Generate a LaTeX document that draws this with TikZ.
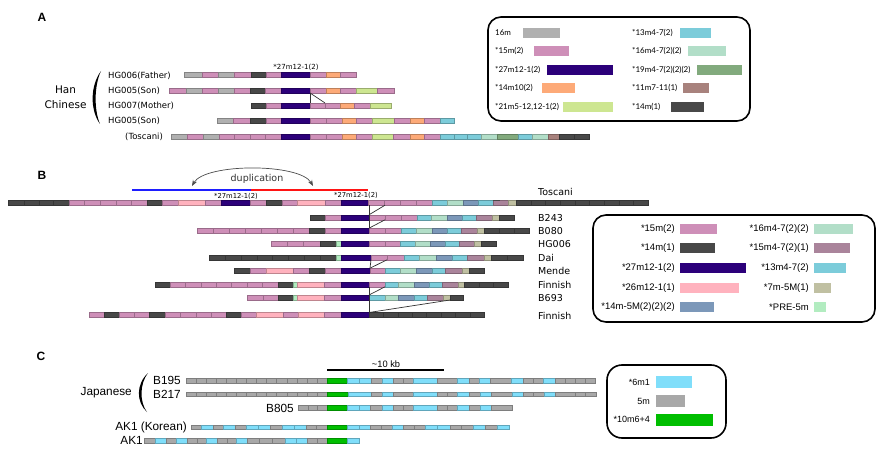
\documentclass[tikz,border=0pt]{standalone}
\usepackage{fontspec}
\setmainfont{DejaVu Sans}
\newfontfamily\latofont{Lato}
\newfontfamily\arialfont{Liberation Sans}
\usetikzlibrary{arrows.meta}

% repeat unit colours
\definecolor{grey16}{RGB}{176,176,176}
\definecolor{pink15}{RGB}{206,143,184}
\definecolor{navy27}{RGB}{44,0,122}
\definecolor{orng14}{RGB}{253,170,120}
\definecolor{lime21}{RGB}{205,230,145}
\definecolor{cyan13}{RGB}{124,204,218}
\definecolor{mint16}{RGB}{178,222,200}
\definecolor{fern19}{RGB}{130,170,125}
\definecolor{brwn11}{RGB}{168,130,125}
\definecolor{dark14}{RGB}{72,72,72}
\definecolor{mauv15}{RGB}{170,132,155}
\definecolor{rose26}{RGB}{255,178,190}
\definecolor{tan7}{RGB}{192,192,162}
\definecolor{steel14}{RGB}{124,152,185}
\definecolor{pre5}{RGB}{178,236,192}
\definecolor{sky6}{RGB}{128,222,250}
\definecolor{grn10}{RGB}{0,190,0}
\definecolor{grey5}{RGB}{168,168,168}
% duplicated region
\definecolor{dupsrc}{RGB}{30,30,255}
\definecolor{dupdst}{RGB}{255,20,20}

% one array: y, x start, bar height, list of colour/width
\newcommand\track[4]{%
  \xdef\trkx{#2}%
  \foreach \segcol/\segw in {#4}{%
    \fill[fill=\segcol, draw=\segcol!75!black, line width=0.3pt] (\trkx,#1-#3/2) rectangle ++(\segw,#3);
    \pgfmathsetmacro\trknext{\trkx+\segw}%
    \xdef\trkx{\trknext}%
  }}

\begin{document}
\begin{tikzpicture}[x=1pt, y=-1pt,
    panel/.style={inner sep=0pt, font=\arialfont\bfseries\fontsize{12}{14}\selectfont},
    lblA/.style={inner sep=0pt, anchor=west, font=\fontsize{8.5}{10}\selectfont},
    lblB/.style={inner sep=0pt, anchor=west, font=\fontsize{9.5}{11}\selectfont},
    lblC/.style={inner sep=0pt, anchor=east, font=\arialfont\fontsize{11.8}{14}\selectfont},
    motif/.style={inner sep=0pt, font=\fontsize{7}{8}\selectfont},
    legA/.style={inner sep=0pt, anchor=west, font=\latofont\fontsize{8}{9}\selectfont},
    legB/.style={inner sep=0pt, anchor=east, font=\arialfont\fontsize{9.5}{11}\selectfont},
    legC/.style={inner sep=0pt, anchor=east, font=\arialfont\fontsize{9}{10}\selectfont},
    legbox/.style={draw=black, line width=1.6pt, rounded corners=13pt},
    brk/.style={draw=black!80, line width=0.7pt}]

  \useasboundingbox (0,0) rectangle (880,457);

  % ================= A =================
  \node[panel] (pA) at (42,17.5) {A};

  \node[inner sep=0pt, align=center, font=\fontsize{10.5}{15}\selectfont] (han) at (65.5,97.5) {Han\\Chinese};
  \fill (101,71) .. controls (90,86) and (90,110) .. (100,124) .. controls (94,110) and (94,86) .. cycle;

  \node[lblA] (hgf) at (108,75.5) {HG006(Father)};
  \node[lblA] (hgs1) at (108,90.5) {HG005(Son)};
  \node[lblA] (hgm) at (108,106) {HG007(Mother)};
  \node[lblA] (hgs2) at (108,120.5) {HG005(Son)};
  \node[lblA] (tosA) at (125,136.5) {(Toscani)};
  \node[motif] (motA) at (296,67) {*27m12-1(2)};

  \track{75}{184}{5}{grey16/18,pink15/16,grey16/16,pink15/17,dark14/15,pink15/15,navy27/29,pink15/16,orng14/14,pink15/16}
  \track{90.5}{169}{5}{pink15/17,grey16/16,pink15/16,grey16/16,pink15/16,dark14/15,pink15/16,navy27/29,pink15/16,orng14/14,pink15/16,lime21/21,pink15/17}
  \track{105.5}{251}{5}{dark14/15,pink15/15,navy27/29,pink15/15,pink15/15,orng14/14,pink15/16,lime21/21}
  \track{120.5}{217}{5}{grey16/16,pink15/17,dark14/16,pink15/15,navy27/29,pink15/16,pink15/16,orng14/14,pink15/16,lime21/22,pink15/16,orng14/14,pink15/16,cyan13/14}
  \track{136.5}{171}{5}{grey16/16,pink15/16,grey16/16,pink15/15,pink15/16,pink15/15,pink15/16,navy27/29,pink15/16,pink15/16,orng14/14,pink15/16,lime21/21,pink15/17,orng14/14,pink15/16,cyan13/14,cyan13/13,cyan13/14,mint16/16,fern19/21,cyan13/14,mint16/16,brwn11/11,dark14/15,dark14/15}

  % breakpoint between son and mother
  \coordinate (sonEnd) at (310,93);
  \coordinate (momEnd) at (310,103);
  \coordinate (momIns) at (325,103);
  \draw[brk] (sonEnd) -- (momEnd);
  \draw[brk] (sonEnd) -- (momIns);

  % legend A
  \draw[legbox] (488,17) rectangle (750,121);
  \node[legA] (la1) at (495,33) {16m};
  \node[legA] (la2) at (495,51) {*15m(2)};
  \node[legA] (la3) at (495,70) {*27m12-1(2)};
  \node[legA] (la4) at (495,88) {*14m10(2)};
  \node[legA] (la5) at (495,107) {*21m5-12,12-1(2)};
  \fill[grey16] (523,28) rectangle (560,38);
  \fill[pink15] (534,46) rectangle (569,56);
  \fill[navy27] (547,65) rectangle (613,75);
  \fill[orng14] (542,83) rectangle (575,93);
  \fill[lime21] (563,102) rectangle (613,112);
  \node[legA] (la6) at (632,33) {*13m4-7(2)};
  \node[legA] (la7) at (632,51) {*16m4-7(2)(2)};
  \node[legA] (la8) at (632,70) {*19m4-7(2)(2)(2)};
  \node[legA] (la9) at (632,88) {*11m7-11(1)};
  \node[legA] (la10) at (632,107) {*14m(1)};
  \fill[cyan13] (680,28) rectangle (711,38);
  \fill[mint16] (688,46) rectangle (726,56);
  \fill[fern19] (697,65) rectangle (742,75);
  \fill[brwn11] (683,83) rectangle (709,93);
  \fill[dark14] (671,102) rectangle (704,112);

  % ================= B =================
  \node[panel] (pB) at (42,175.5) {B};

  % duplication
  \draw[draw=dupsrc, line width=1.1pt] (132,190) -- (251,190);
  \draw[draw=dupdst, line width=1.1pt] (251,190) -- (368,190);
  \coordinate (dupL) at (192,186);
  \coordinate (dupR) at (313,186);
  \draw[black!70, line width=0.7pt, {Stealth[length=6pt]}-{Stealth[length=6pt]}] (dupL) .. controls (205,163) and (300,163) .. (dupR);
  \node[inner sep=0pt, font=\fontsize{9.5}{11}\selectfont, text=black!80] (dup) at (257,178.5) {duplication};
  \node[motif, font=\fontsize{6.8}{8}\selectfont] (motB1) at (236,196) {*27m12-1(2)};
  \node[motif, font=\fontsize{6.8}{8}\selectfont] (motB2) at (356,195.5) {*27m12-1(2)};

  \track{202.7}{8}{5}{dark14/16,dark14/15,dark14/14,dark14/16,pink15/15,pink15/16,pink15/16,pink15/15,pink15/16,dark14/15,pink15/16,rose26/27,pink15/16,navy27/29,pink15/16,dark14/16,pink15/15,rose26/28,pink15/16,navy27/27,pink15/16,pink15/16,pink15/16,pink15/16,cyan13/15,mint16/16,steel14/15,cyan13/15,mauv15/15,tan7/8,dark14/14.7,dark14/14.7,dark14/14.7,dark14/14.7,dark14/14.7,dark14/14.7,dark14/14.7,dark14/14.7,dark14/14.7}
  \draw[dark14, line width=0.9pt] (492.5,200.8) -- (499.5,200.8);
  \track{217.3}{310}{5}{dark14/15,pink15/16,navy27/28,pink15/16,pink15/16,pink15/16,cyan13/14,mint16/16,steel14/15,cyan13/14,mauv15/16,tan7/7,dark14/15}
  \track{230.7}{197}{5}{pink15/16,pink15/16,pink15/16,pink15/16,pink15/16,pink15/16,pink15/16,dark14/16,pink15/16,navy27/28,pink15/16,pink15/16,cyan13/15,mint16/16,steel14/15,cyan13/14,mauv15/16,tan7/7,dark14/15,dark14/15,dark14/15}
  \track{244}{271}{5}{pink15/16,pink15/16,pink15/17,dark14/16,pre5/5,navy27/28,pink15/16,pink15/15,cyan13/15,mint16/15,steel14/15,cyan13/14,mauv15/15,tan7/7,dark14/15}
  \track{257.3}{209}{5}{dark14/15.9,dark14/15.9,dark14/15.9,dark14/15.9,dark14/15.9,dark14/15.9,dark14/15.9,dark14/15.9,pre5/5,navy27/30,pink15/16,pink15/17,cyan13/15,mint16/17,steel14/16,cyan13/15,mauv15/17,tan7/7,dark14/16,dark14/16}
  \track{270.7}{234}{5}{dark14/16,pink15/16,rose26/27,pink15/16,dark14/16,pink15/16,navy27/29,pink15/15,cyan13/15,mint16/16,steel14/16,cyan13/13,mauv15/17,tan7/7,dark14/15}
  \track{284.3}{155}{5}{dark14/15,pink15/15.4,pink15/15.4,pink15/15.4,pink15/15.4,pink15/15.4,pink15/15.4,pink15/15.6,dark14/15,pre5/4,rose26/27,pink15/17,navy27/28,pink15/16,cyan13/13,mint16/16,steel14/15,cyan13/13,mauv15/16,tan7/6,dark14/15,dark14/14,dark14/15}
  \track{297.5}{247}{5}{pink15/16,pink15/15,dark14/15,pre5/4,rose26/27,pink15/17,navy27/28,cyan13/16,mint16/13,steel14/16,cyan13/13,mauv15/16,tan7/7,dark14/13}
  \track{315}{89}{5}{pink15/15,dark14/15,pink15/15,pink15/15,dark14/16,pink15/15,pink15/16,pink15/15,pink15/15,dark14/15,pink15/15,rose26/27,pink15/15,rose26/26,pink15/17,navy27/28,dark14/14.4,dark14/14.4,dark14/14.4,dark14/14.4,dark14/14.4,dark14/14.4,dark14/14.4,dark14/14.4}

  % breakpoints
  \coordinate (tosN) at (369,205.2);
  \coordinate (tosP) at (385,205.2);
  \coordinate (b243N) at (369,214.8);
  \coordinate (b243P) at (385,219.8);
  \coordinate (b080N) at (369,228.2);
  \draw[brk] (tosN) -- (b080N);
  \draw[brk] (b243N) -- (tosP);
  \draw[brk] (b080N) -- (b243P);
  \coordinate (daiN) at (371,259.8);
  \coordinate (daiP) at (387,259.8);
  \coordinate (menN) at (370,268.2);
  \draw[brk] (daiN) -- (menN);
  \draw[brk] (menN) -- (daiP);
  \coordinate (finN) at (369,286.8);
  \coordinate (finP) at (385,286.8);
  \coordinate (b693N) at (369,295);
  \coordinate (b693D) at (450,300);
  \coordinate (fin2N) at (369,312.5);
  \draw[brk] (finN) -- (fin2N);
  \draw[brk] (b693N) -- (finP);
  \draw[brk] (fin2N) -- (b693D);

  \node[lblB] (tosB) at (538,192) {Toscani};
  \node[lblB] (b243) at (538,218) {B243};
  \node[lblB] (b080) at (538,231) {B080};
  \node[lblB] (hg006) at (538,244.5) {HG006};
  \node[lblB] (dai) at (538,258) {Dai};
  \node[lblB] (mende) at (538,271) {Mende};
  \node[lblB] (fin1) at (538,285) {Finnish};
  \node[lblB] (b693) at (538,298) {B693};
  \node[lblB] (fin2) at (538,315.5) {Finnish};

  % legend B
  \draw[legbox] (593,215) rectangle (875,322);
  \node[legB] (lb1) at (675,229) {*15m(2)};
  \node[legB] (lb2) at (675,248) {*14m(1)};
  \node[legB] (lb3) at (675,268) {*27m12-1(2)};
  \node[legB] (lb4) at (675,288) {*26m12-1(1)};
  \node[legB] (lb5) at (675,307) {*14m-5M(2)(2)(2)};
  \fill[pink15] (680,224.2) rectangle (717,233.8);
  \fill[dark14] (680,243.2) rectangle (715,252.8);
  \fill[navy27] (680,263.2) rectangle (746,272.8);
  \fill[rose26] (680,283.2) rectangle (739,292.8);
  \fill[steel14] (680,302.2) rectangle (714,311.8);
  \node[legB] (lb6) at (809,229) {*16m4-7(2)(2)};
  \node[legB] (lb7) at (809,248) {*15m4-7(2)(1)};
  \node[legB] (lb8) at (809,268) {*13m4-7(2)};
  \node[legB] (lb9) at (809,288) {*7m-5M(1)};
  \node[legB] (lb10) at (809,307) {*PRE-5m};
  \fill[mint16] (814,224.2) rectangle (853,233.8);
  \fill[mauv15] (814,243.2) rectangle (850,252.8);
  \fill[cyan13] (814,263.2) rectangle (846,272.8);
  \fill[tan7] (814,283.2) rectangle (831,292.8);
  \fill[pre5] (814,302.2) rectangle (826,311.8);

  % ================= C =================
  \node[panel] (pC) at (41,356) {C};

  \node[lblC] (jap) at (132,393) {Japanese};
  \fill (148,373) .. controls (136,384) and (136,402) .. (147,412) .. controls (139.5,402) and (139.5,384) .. cycle;
  \node[lblC] (b195) at (181,380.5) {B195};
  \node[lblC] (b217) at (181,394) {B217};
  \node[lblC] (b805) at (294,408) {B805};
  \node[lblC] (ak1k) at (187,427) {AK1 (Korean)};
  \node[lblC] (ak1) at (143,440.5) {AK1};

  % scale bar
  \coordinate (sbL) at (327,370);
  \coordinate (sbR) at (444,370);
  \draw[line width=1.3pt] (sbL) -- (sbR);
  \node[inner sep=0pt, font=\arialfont\fontsize{9.3}{10}\selectfont] (kb) at (386,364) {\textasciitilde10 kb};

  \track{380.5}{186}{4.5}{grey5/10.07,grey5/10.07,grey5/10.07,grey5/10.07,grey5/10.07,grey5/10.07,grey5/10.07,grey5/10.07,grey5/10.07,grey5/10.07,grey5/10.07,grey5/10.07,grey5/10.07,grey5/10.09,grn10/20,sky6/12,sky6/12,grey5/11,sky6/11,grey5/10,grey5/10,sky6/24,grey5/20,sky6/12,grey5/10,sky6/11,grey5/21,sky6/12,grey5/10,grey5/10,sky6/12,grey5/10,grey5/10,grey5/10,grey5/10}
  \track{394}{186}{4.5}{grey5/10.07,grey5/10.07,grey5/10.07,grey5/10.07,grey5/10.07,grey5/10.07,grey5/10.07,grey5/10.07,grey5/10.07,grey5/10.07,grey5/10.07,grey5/10.07,grey5/10.07,grey5/10.09,grn10/21,sky6/23,grey5/11,sky6/11,grey5/20,sky6/24,grey5/10,grey5/10,sky6/12,grey5/11,sky6/11,grey5/21,sky6/11,grey5/10,grey5/11,sky6/11,grey5/20,grey5/10,grey5/11}
  \track{407.7}{298}{4.5}{grey5/9.67,grey5/9.67,grey5/9.66,grn10/20,sky6/12,sky6/11,grey5/12,sky6/11,grey5/10,grey5/10,sky6/24,grey5/10,grey5/10,sky6/12,grey5/11,sky6/11,grey5/21}
  \track{427}{191}{4.5}{grey5/10,sky6/12,grey5/10,sky6/12,grey5/11,sky6/12,sky6/12,grey5/12,sky6/12,sky6/12,grey5/10,grey5/11,grn10/20,sky6/12,sky6/11,grey5/11,grey5/11,sky6/11,grey5/11,grey5/11,sky6/12,sky6/13,grey5/11,grey5/12,sky6/12,grey5/12,sky6/12}
  \track{440.5}{144}{4.5}{grey5/11,sky6/11,grey5/10,sky6/11,grey5/10,grey5/9,sky6/11,grey5/10,grey5/9,sky6/11,grey5/12,grey5/13,grey5/13,sky6/11,sky6/11,grey5/10,grey5/10,grn10/20,sky6/12}

  % legend C
  \draw[legbox, rounded corners=15pt] (607,365) rectangle (726,438);
  \node[legC] (lc1) at (650,382) {*6m1};
  \node[legC] (lc2) at (650,401) {5m};
  \node[legC] (lc3) at (650,419.5) {*10m6+4};
  \fill[sky6] (656,376) rectangle (692,388);
  \fill[grey5] (656,395) rectangle (685,407);
  \fill[grn10] (656,413.5) rectangle (713,425.5);

\end{tikzpicture}
\end{document}
